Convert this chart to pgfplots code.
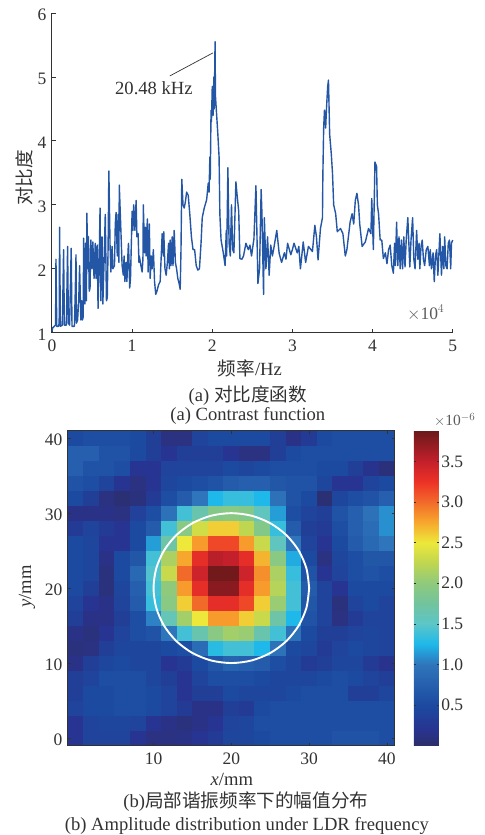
\documentclass[border=0pt]{standalone}
\usepackage{fontspec}
\setmainfont{Liberation Serif}
\newfontfamily\cjk{Noto Sans CJK SC}
\usepackage{pgfplots}
\pgfplotsset{compat=1.18}
\definecolor{ink}{RGB}{50,50,50}
\definecolor{curve}{RGB}{36,86,166}
\newcommand{\fs}{\fontsize{18.6}{20}\selectfont}
\newcommand{\ft}{\fontsize{17.5}{19}\selectfont}
\newcommand{\T}[3]{\node[text=ink,font=\fs,inner sep=0pt,anchor=center] at (#1pt,835pt-#2pt) {#3};}
\pgfplotsset{colormap={ref}{
 rgb255(0pt)=(44,46,106) rgb255(20pt)=(40,52,145) rgb255(50pt)=(28,74,160) rgb255(100pt)=(47,117,187)
 rgb255(125pt)=(30,184,234) rgb255(150pt)=(92,198,200) rgb255(175pt)=(114,195,157) rgb255(200pt)=(143,202,124)
 rgb255(225pt)=(191,214,80) rgb255(250pt)=(237,232,58) rgb255(275pt)=(247,167,45) rgb255(300pt)=(242,106,42)
 rgb255(325pt)=(237,50,38) rgb255(350pt)=(196,32,43) rgb255(388pt)=(106,24,26)}}
\begin{document}
\begin{tikzpicture}[x=1pt,y=1pt]
\path (0,0) rectangle (485pt,835pt);
\begin{axis}[at={(52pt,502pt)},anchor=south west,scale only axis,width=401pt,height=320pt,
 xmin=0,xmax=5,ymin=1,ymax=6,axis lines=left,axis line style={-,ink,line width=1pt},
 tick style={ink,line width=0.8pt},tick align=inside,major tick length=4pt,
 xtick={0,1,2,3,4,5},ytick={1,2,3,4,5,6},scaled x ticks=false,
 /pgf/number format/assume math mode=true,
 tick label style={font=\ft,text=ink},xticklabel style={yshift=-4pt},yticklabel style={xshift=-2pt,yshift=-1.5pt},clip=false]
\addplot[curve,line width=1.4pt,line join=round] coordinates {
(0,1.02)(0.01,1.08)(0.03,1.1)(0.045,1.12)(0.05,2.15)(0.06,1.1)(0.08,1.1)(0.09,1.15)(0.095,2.65)(0.105,1.1)(0.13,1.12)(0.145,2.3)(0.155,1.12)(0.18,1.12)(0.195,2.35)(0.205,1.15)(0.22,1.12)(0.24,2.32)(0.25,1.1)(0.28,1.1)(0.29,1.6)(0.3,2.22)(0.305,1.15)(0.32,1.2)(0.335,1.55)(0.345,2.05)(0.36,1.2)(0.37,1.5)(0.38,1.2)
(0.39,1.25)(0.395,2.48)(0.41,1.45)(0.42,2.4)(0.43,1.5)(0.435,2.87)(0.45,2.0)(0.455,2.5)(0.465,1.65)(0.475,1.7)(0.485,2.45)(0.50,2.0)(0.51,2.42)(0.525,1.85)(0.54,2.4)(0.55,1.85)(0.565,2.37)(0.575,1.38)(0.59,2.2)(0.60,2.95)(0.61,1.5)(0.625,2.5)(0.635,1.45)(0.65,2.1)(0.665,2.85)(0.68,1.5)(0.69,1.55)(0.70,2.3)(0.71,3.53)(0.725,2.35)(0.735,1.95)(0.75,2.35)(0.76,2.0)(0.78,2.05)(0.79,2.7)(0.80,2.88)(0.815,2.2)(0.825,2.85)(0.835,2.1)(0.84,3.31)(0.86,2.6)(0.875,2.05)
(0.88,2.0)(0.89,1.9)(0.90,2.2)(0.91,1.8)(0.925,2.1)(0.935,1.8)(0.95,2.3)(0.955,2.4)(0.97,1.7)(0.98,1.85)(1.0,2.9)(1.01,2.6)(1.02,3.0)(1.035,2.6)(1.05,3.07)(1.06,2.5)(1.075,2.55)(1.085,2.1)(1.09,2.2)(1.11,2.05)(1.125,1.95)(1.135,2.15)(1.14,3.0)(1.155,2.25)(1.165,2.65)(1.175,2.2)(1.19,2.78)(1.2,1.95)(1.215,2.7)(1.225,1.85)(1.24,2.2)(1.25,2.0)(1.265,2.3)(1.28,1.8)(1.295,1.6)(1.31,1.65)(1.33,1.75)(1.35,1.8)(1.36,2.1)(1.375,2.55)(1.39,2.2)(1.395,2.58)(1.41,2.0)(1.425,1.9)(1.44,2.1)(1.455,2.4)(1.465,2.0)(1.475,2.45)(1.485,2.05)(1.5,2.5)(1.51,2.05)(1.525,2.6)(1.54,2.1)(1.555,2.0)(1.57,1.85)(1.585,1.78)(1.6,1.68)(1.61,2.3)
(1.62,3.4)(1.635,3.0)(1.65,2.95)(1.665,3.05)(1.68,3.2)(1.7,3.15)(1.72,2.85)(1.74,2.5)(1.76,2.3)(1.78,2.3)(1.8,2.05)(1.82,1.98)(1.84,2.0)(1.86,2.4)(1.875,2.8)(1.9,2.95)(1.93,3.08)(1.95,3.34)(1.96,3.2)(1.97,3.75)(1.975,3.4)(1.985,4.48)(1.99,4.3)(2.0,4.85)(2.01,4.4)(2.02,5.0)(2.025,4.5)(2.035,5.55)(2.04,4.7)(2.055,4.4)(2.07,4.1)(2.085,3.75)(2.095,2.85)(2.11,2.45)(2.135,2.27)(2.16,2.05)(2.175,2.6)(2.18,2.2)(2.195,3.58)(2.21,2.4)(2.225,2.2)(2.24,3.0)(2.255,2.3)(2.27,2.25)(2.295,3.36)(2.31,3.15)(2.33,2.9)(2.345,2.16)(2.37,2.15)(2.39,2.2)(2.42,2.4)(2.45,2.3)(2.47,2.37)(2.49,2.2)(2.52,2.47)(2.545,3.3)(2.57,1.77)(2.59,2.0)(2.61,3.24)(2.62,2.86)(2.64,1.6)(2.65,2.8)(2.67,2.0)(2.69,2.5)(2.71,1.9)(2.73,2.37)(2.75,2.2)(2.765,2.3)(2.805,2.6)(2.835,2.24)(2.865,2.1)(2.9,2.25)(2.92,2.15)(2.94,2.4)(2.98,2.22)(3.0,2.3)(3.02,2.4)(3.06,2.25)(3.08,2.35)(3.1,2.0)(3.135,2.42)(3.165,2.1)(3.2,2.35)(3.25,2.27)(3.28,2.68)(3.3,2.5)(3.32,2.14)(3.35,2.63)(3.375,2.8)
(3.38,3.47)(3.39,4.2)(3.4,4.48)(3.415,4.2)(3.425,4.5)(3.44,4.85)(3.45,4.95)(3.465,4.1)(3.485,3.8)(3.5,3.5)(3.515,3.0)(3.54,2.86)(3.56,2.58)(3.6,2.63)(3.63,2.55)(3.66,2.2)(3.68,2.3)(3.72,2.73)(3.745,2.86)(3.765,2.7)(3.785,3.07)(3.805,3.18)(3.825,3.0)(3.84,2.7)(3.87,2.35)(3.91,2.42)(3.95,2.63)(3.98,2.55)(3.99,3.1)(4.01,2.3)(4.03,3.67)(4.05,3.6)(4.06,3.0)(4.075,2.86)(4.095,2.45)(4.115,2.45)(4.135,2.16)(4.16,2.25)(4.18,2.08)(4.2,2.3)(4.22,2.37)(4.24,2.05)(4.26,1.93)(4.275,2.4)(4.285,2.05)(4.3,2.73)(4.315,2.05)(4.33,2.5)(4.345,2.0)(4.36,2.45)(4.375,2.0)(4.39,2.5)(4.405,2.03)(4.42,2.45)(4.44,2.8)(4.465,2.03)(4.48,2.45)(4.5,2.8)(4.515,2.15)(4.53,2.0)(4.55,2.6)(4.565,2.15)(4.58,2.4)(4.59,2.0)(4.605,2.35)(4.62,2.45)(4.635,2.15)(4.65,2.05)(4.67,2.3)(4.69,2.35)(4.71,2.05)(4.72,2.3)(4.735,2.0)(4.755,2.25)(4.77,1.8)(4.785,2.2)(4.8,2.3)(4.815,1.9)(4.84,2.55)(4.86,1.9)(4.875,2.35)(4.89,2.0)(4.9,2.5)(4.915,2.05)(4.93,2.0)(4.945,2.4)(4.96,2.45)(4.975,2.0)(4.985,2.4)(5,2.45)};
\draw[ink,line width=0.7pt] (axis cs:1.471,5.016)--(axis cs:2.007,5.375);
\end{axis}
\T{154}{88}{20.48 kHz}
\T{426}{313}{\ft\color{ink!80}$\times$10$^4$}
\T{250}{369}{{\cjk 频率}/Hz}
\T{248}{396}{(a) {\cjk 对比度函数}}
\T{248}{416}{(a) Contrast function}
\node[text=ink,font=\fs,rotate=90,inner sep=0pt] at (24pt,657pt) {\cjk 对比度};
\begin{axis}[at={(68pt,89pt)},anchor=south west,scale only axis,width=327pt,height=315pt,
 xmin=-1,xmax=41,ymin=-1,ymax=41,axis line style={ink,line width=1pt},axis on top,
 tick style={ink,line width=0.7pt},tick align=inside,major tick length=3pt,
 xtick={10,20,30,40},ytick={0,10,20,30,40},
 /pgf/number format/assume math mode=true,
 tick label style={font=\ft,text=ink},xticklabel style={yshift=-4pt},yticklabel style={xshift=-2pt,yshift=-1.5pt},
 colormap name=ref,point meta min=0,point meta max=3.88,
 colorbar,colorbar/width=25pt,
 colorbar style={at={(1.0585,1)},anchor=north west,height=315pt,
   ytick={0.5,1,1.5,2,2.5,3,3.5},axis line style={draw=none},
   tick style={ink,line width=0.6pt},major tick length=2pt,tick align=inside,
   /pgf/number format/assume math mode=true,
   /pgf/number format/fixed,/pgf/number format/fixed zerofill,/pgf/number format/precision=1,
   yticklabel style={font=\ft,text=ink,xshift=-1pt}}]
\addplot[surf,shader=flat corner,mesh/cols=22,point meta=explicit] table[row sep=\\,header=false,x expr={-1+mod(\coordindex,22)*2},y expr={-1+2*floor((\coordindex+0.5)/22)},meta index=0]{
.2\\.4\\.4\\.4\\.2\\.12\\.12\\.15\\.2\\.3\\.45\\.45\\.5\\.55\\.55\\.55\\.55\\.6\\.6\\.6\\.55\\.55\\
.2\\.4\\.45\\.45\\.4\\.2\\.15\\.1\\.15\\.2\\.4\\.45\\.55\\.55\\.55\\.55\\.55\\.55\\.55\\.55\\.55\\.55\\
.4\\.5\\.5\\.55\\.55\\.5\\.4\\.3\\.15\\.15\\.35\\.3\\.5\\.55\\.55\\.55\\.55\\.55\\.55\\.55\\.55\\.55\\
.35\\.5\\.5\\.55\\.55\\.5\\.4\\.2\\.35\\.35\\.5\\.45\\.45\\.45\\.5\\.55\\.55\\.55\\.35\\.35\\.45\\.45\\
.35\\.4\\.55\\.55\\.55\\.45\\.35\\.2\\.4\\.55\\.55\\.55\\.5\\.45\\.45\\.45\\.5\\.55\\.5\\.4\\.35\\.35\\
.15\\.35\\.45\\.5\\.45\\.45\\.2\\.3\\.5\\.65\\.8\\.75\\.7\\.55\\.45\\.3\\.35\\.45\\.45\\.3\\.18\\.18\\
.1\\.12\\.35\\.45\\.45\\.45\\.5\\.55\\.9\\1.3\\1.4\\1.4\\1.25\\.95\\.5\\.45\\.3\\.4\\.5\\.45\\.4\\.4\\
.15\\.1\\.2\\.4\\.55\\.6\\1.0\\1.4\\1.65\\1.95\\2.1\\2.05\\1.65\\1.4\\.95\\.5\\.35\\.35\\.4\\.45\\.4\\.4\\
.35\\.15\\.15\\.35\\.55\\1.05\\1.6\\2.1\\2.5\\2.8\\2.8\\2.6\\2.3\\1.7\\1.25\\.6\\.4\\.12\\.3\\.4\\.4\\.4\\
.4\\.2\\.15\\.4\\.7\\1.35\\1.95\\2.6\\3.0\\3.3\\3.3\\3.15\\2.6\\2.05\\1.4\\.65\\.4\\.1\\.4\\.5\\.4\\.4\\
.5\\.35\\.1\\.45\\.75\\1.4\\2.0\\2.8\\3.3\\3.75\\3.75\\3.3\\2.8\\2.2\\1.4\\.7\\.4\\.2\\.5\\.5\\.5\\.5\\
.5\\.45\\.1\\.5\\.85\\1.45\\2.3\\3.0\\3.45\\3.85\\3.85\\3.45\\2.85\\2.15\\1.35\\.6\\.2\\.4\\.55\\.6\\.55\\.55\\
.5\\.45\\.15\\.5\\.65\\1.4\\2.15\\2.75\\3.3\\3.55\\3.5\\3.3\\2.7\\1.95\\1.2\\.5\\.12\\.45\\.55\\.65\\.65\\.65\\
.5\\.45\\.2\\.2\\.5\\1.15\\1.7\\2.5\\2.8\\3.15\\3.15\\2.8\\2.3\\1.55\\1.0\\.4\\.2\\.5\\.7\\.85\\1.0\\1.0\\
.3\\.4\\.3\\.2\\.5\\.7\\1.4\\1.95\\2.35\\2.6\\2.6\\2.25\\1.9\\1.35\\.7\\.35\\.3\\.55\\.75\\.9\\1.1\\1.1\\
.15\\.15\\.15\\.12\\.38\\.55\\.95\\1.4\\1.65\\1.9\\1.95\\1.9\\1.55\\1.15\\.55\\.4\\.35\\.6\\.75\\.95\\1.1\\1.1\\
.5\\.35\\.12\\.05\\.1\\.3\\.55\\.7\\1.0\\1.25\\1.35\\1.35\\1.25\\.95\\.6\\.5\\.05\\.45\\.55\\.6\\.75\\.75\\
.6\\.55\\.4\\.2\\.12\\.2\\.45\\.5\\.55\\.6\\.7\\.75\\.75\\.65\\.6\\.6\\.45\\.2\\.2\\.4\\.5\\.5\\
.75\\.6\\.6\\.55\\.2\\.2\\.4\\.4\\.4\\.4\\.5\\.45\\.5\\.55\\.55\\.55\\.5\\.5\\.35\\.18\\.08\\.08\\
.75\\.75\\.6\\.6\\.5\\.35\\.2\\.35\\.35\\.35\\.2\\.12\\.12\\.35\\.5\\.55\\.55\\.55\\.55\\.55\\.55\\.55\\
.5\\.55\\.55\\.55\\.5\\.35\\.12\\.12\\.4\\.5\\.5\\.5\\.5\\.35\\.15\\.3\\.5\\.55\\.55\\.55\\.55\\.55\\
.5\\.55\\.55\\.55\\.5\\.35\\.12\\.12\\.4\\.5\\.5\\.5\\.5\\.35\\.15\\.3\\.5\\.55\\.55\\.55\\.55\\.55\\
};
\addplot[white,line width=1.9pt,smooth] coordinates {(30,20)(29.66,22.59)(28.66,25)(27.07,27.07)(25,28.66)(22.59,29.66)(20,30)(17.41,29.66)(15,28.66)(12.93,27.07)(11.34,25)(10.34,22.59)(10,20)(10.34,17.41)(11.34,15)(12.93,12.93)(15,11.34)(17.41,10.34)(20,10)(22.59,10.34)(25,11.34)(27.07,12.93)(28.66,15)(29.66,17.41)(30,20)};
\end{axis}
\T{455}{420}{\fontsize{15.5}{17}\selectfont\color{ink!80}$\times$10$^{-6}$}
\node[text=ink,font=\fs,rotate=90,inner sep=0pt] at (27pt,248pt) {\textit{y}/mm};
\T{232}{780}{\textit{x}/mm}
\T{246}{802}{(b){\cjk 局部谐振频率下的幅值分布}}
\T{247}{827}{(b) Amplitude distribution under LDR frequency}
\end{tikzpicture}
\end{document}
